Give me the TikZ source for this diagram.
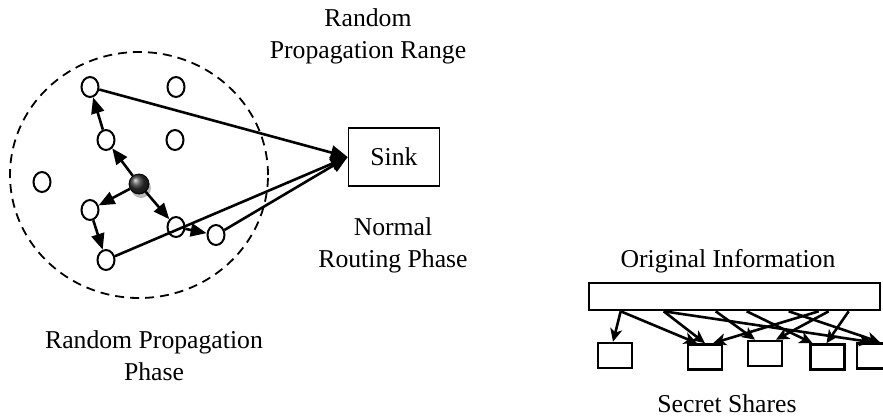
\documentclass[tikz,border=0pt]{standalone}
\usepackage{fontspec}
\setmainfont{Liberation Serif}
\usetikzlibrary{shapes.geometric,arrows.meta,calc}
\begin{document}
\begin{tikzpicture}[x=1pt,y=-1pt,
  every node/.style={font=\fontsize{25.7}{32}\selectfont},
  sn/.style={draw, ellipse, line width=2pt, minimum width=17pt, minimum height=20pt, inner sep=0pt},
  arr/.style={line width=2.6pt, -{Triangle[length=16pt,width=13pt]}},
  sinkarr/.style={line width=2.6pt, -{Triangle[length=17pt,width=14pt]}},
  box/.style={draw, line width=2.6pt, inner sep=0pt},
  share/.style={box, minimum width=34pt, minimum height=25pt},
  sarr/.style={line width=2.6pt, -{Stealth[length=13pt,width=12pt,inset=3.5pt]}},
  lbl/.style={align=center, inner sep=0pt}
]
\useasboundingbox (0,0) rectangle (883,418);
\clip (0,0) rectangle (883,418);

% random propagation range
\node[draw, ellipse, dash pattern=on 9pt off 6pt, line width=1.8pt,
      minimum width=258pt, minimum height=246pt, inner sep=0pt] (range) at (139,175) {};

% sensor nodes
\node[sn] (n1) at (90,87) {};
\node[sn] (n2) at (176,87) {};
\node[sn] (n3) at (106,140) {};
\node[sn] (n4) at (175,140) {};
\node[sn] (n5) at (42,182) {};
\node[sn] (n6) at (90,210) {};
\node[sn] (n7) at (176,227) {};
\node[sn] (n8) at (216,235) {};
\node[sn] (n9) at (106,260) {};
\node[circle, fill=gray!55, minimum size=20pt, inner sep=0pt] (shadow) at (141,188) {};
\node[circle, ball color=black!80, draw=black, line width=0.8pt, minimum size=20pt, inner sep=0pt] (c) at (139,184) {};

% sink
\node[draw, line width=1.6pt, minimum width=91pt, minimum height=58pt, inner sep=0pt] (sink) at (394,157) {Sink};

% propagation arrows
\draw[arr] (c) -- (n3);
\draw[arr] (n3) -- (n1);
\draw[arr] (c) -- (n6);
\draw[arr] (n6) -- (n9);
\draw[arr] (c) -- (n7);
\draw[arr] (n7) -- (n8);

% routing arrows
\draw[sinkarr] (n1) -- (sink.west);
\draw[sinkarr] (n9) -- (sink.west);
\draw[sinkarr] (n8) -- (sink.west);

% labels
\node[lbl] (t1) at (368,36) {Random\\Propagation Range};
\node[lbl] (t2) at (393,245) {Normal\\Routing Phase};
\node[lbl] (t3) at (154,356) {Random Propagation\\Phase};

% secret sharing
\node[lbl] (t4) at (728,261) {Original Information};
\node[box, minimum width=291pt, minimum height=27pt] (orig) at (734.5,296.5) {};
\node[share] (b1) at (615,355.5) {};
\node[share] (b2) at (705,357) {};
\node[share] (b3) at (765,353.5) {};
\node[share] (b4) at (827.5,357) {};
\node[share] (b5) at (874,356) {};
\node[lbl] (t5) at (727,404) {Secret Shares};

\draw[sarr] ([xshift=33pt]orig.south west) -- ([xshift=-2pt]b1.north);
\draw[sarr] ([xshift=33pt]orig.south west) -- ([xshift=-8pt]b2.north);
\draw[sarr] ([xshift=76pt]orig.south west) -- (b2.north);
\draw[sarr] ([xshift=231pt]orig.south west) -- ([xshift=8pt]b2.north);
\draw[sarr] ([xshift=128pt]orig.south west) -- ([xshift=-10pt]b3.north);
\draw[sarr] ([xshift=241pt]orig.south west) -- ([xshift=11pt]b3.north);
\draw[sarr] ([xshift=159pt]orig.south west) -- ([xshift=-15pt]b4.north);
\draw[sarr] ([xshift=261pt]orig.south west) -- ([xshift=-1pt]b4.north);
\draw[sarr] ([xshift=76pt]orig.south west) -- ([xshift=-2pt]b5.north);
\draw[sarr] ([xshift=201pt]orig.south west) -- ([xshift=6pt]b5.north);
\end{tikzpicture}
\end{document}
